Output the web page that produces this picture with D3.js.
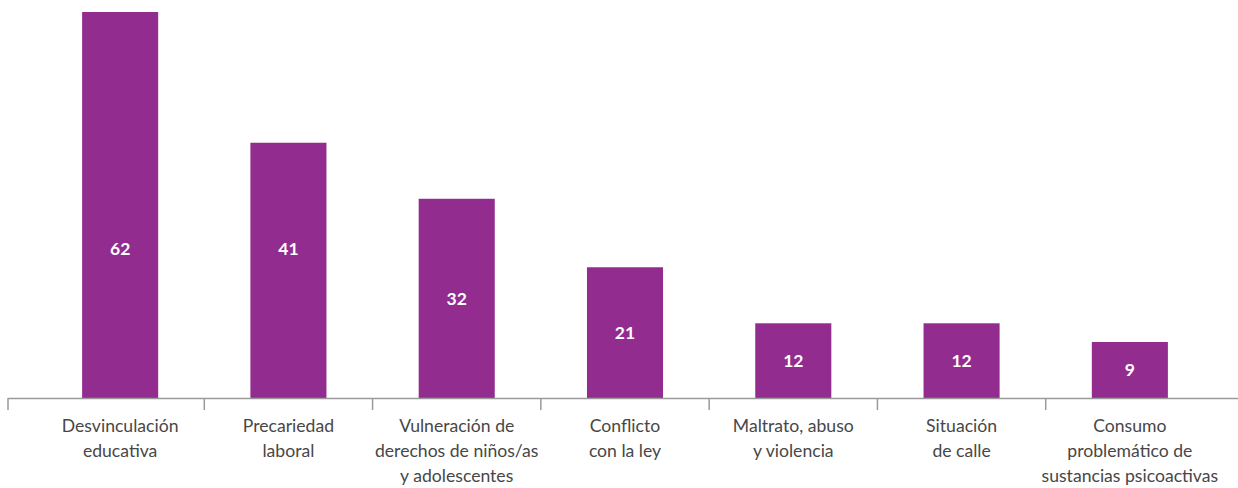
<!DOCTYPE html>
<html>
<head>
<meta charset="utf-8">
<script src="https://cdn.jsdelivr.net/npm/d3@7"></script>
<style>
  html, body { margin: 0; padding: 0; background: #fff; }
  svg { display: block; }
</style>
</head>
<body>
<svg id="chart" width="1238" height="488"></svg>
<script>
// Problem categories (label lines) and counts
const categories = [
  ["Desvinculación", "educativa"],
  ["Precariedad", "laboral"],
  ["Vulneración de", "derechos de niños/as", "y adolescentes"],
  ["Conflicto", "con la ley"],
  ["Maltrato, abuso", "y violencia"],
  ["Situación", "de calle"],
  ["Consumo", "problemático de", "sustancias psicoactivas"]
];
const values = [62, 41, 32, 21, 12, 12, 9];

const W = 1238, H = 488;
const svg = d3.select("#chart");

const baseY = 398;
const x = d3.scaleBand()
  .domain(d3.range(categories.length))
  .range([36, 1214])
  .paddingInner(0.548)
  .paddingOuter(0.274);

const y = d3.scaleLinear().domain([0, 62]).range([baseY, 12]);

const barColor = "#922d8f";
const textColor = "#474747";
const axisColor = "#9a9a9a";

// Bars
svg.append("g").selectAll("rect")
  .data(values)
  .join("rect")
  .attr("x", (d, i) => x(i))
  .attr("y", d => y(d))
  .attr("width", x.bandwidth())
  .attr("height", d => baseY - y(d))
  .attr("fill", barColor);

// Value labels inside bars (tall bars keep the label in the lower part)
svg.append("g").selectAll("text")
  .data(values)
  .join("text")
  .attr("x", (d, i) => x(i) + x.bandwidth() / 2)
  .attr("y", d => (d > 40 ? y(24) : (y(d) + baseY) / 2))
  .attr("dy", "0.36em")
  .attr("text-anchor", "middle")
  .attr("fill", "#fff")
  .attr("font-family", "Lato, 'Open Sans', sans-serif")
  .attr("font-weight", "bold")
  .attr("font-size", 17.5)
  .text(d => d);

// Baseline axis with separators between categories
const step = x.step();
const axisG = svg.append("g");
axisG.append("line")
  .attr("x1", 8).attr("x2", W)
  .attr("y1", baseY + 0.5).attr("y2", baseY + 0.5)
  .attr("stroke", axisColor).attr("stroke-width", 1.5);

const tickXs = [8].concat(d3.range(1, categories.length).map(i => x(i) - (step - x.bandwidth()) / 2));
axisG.selectAll("line.tick")
  .data(tickXs)
  .join("line")
  .attr("class", "tick")
  .attr("x1", d => d).attr("x2", d => d)
  .attr("y1", baseY).attr("y2", baseY + 12)
  .attr("stroke", axisColor).attr("stroke-width", 1.5);

// Category labels
const labels = svg.append("g").selectAll("text")
  .data(categories)
  .join("text")
  .attr("x", (d, i) => x(i) + x.bandwidth() / 2)
  .attr("y", 432)
  .attr("text-anchor", "middle")
  .attr("fill", textColor)
  .attr("font-family", "Lato, 'Open Sans', sans-serif")
  .attr("font-size", 17.6);

labels.each(function(lines, i) {
  const t = d3.select(this);
  lines.forEach((ln, j) => {
    t.append("tspan")
      .attr("x", x(i) + x.bandwidth() / 2)
      .attr("y", 432 + j * 25)
      .text(ln);
  });
});
</script>
</body>
</html>
